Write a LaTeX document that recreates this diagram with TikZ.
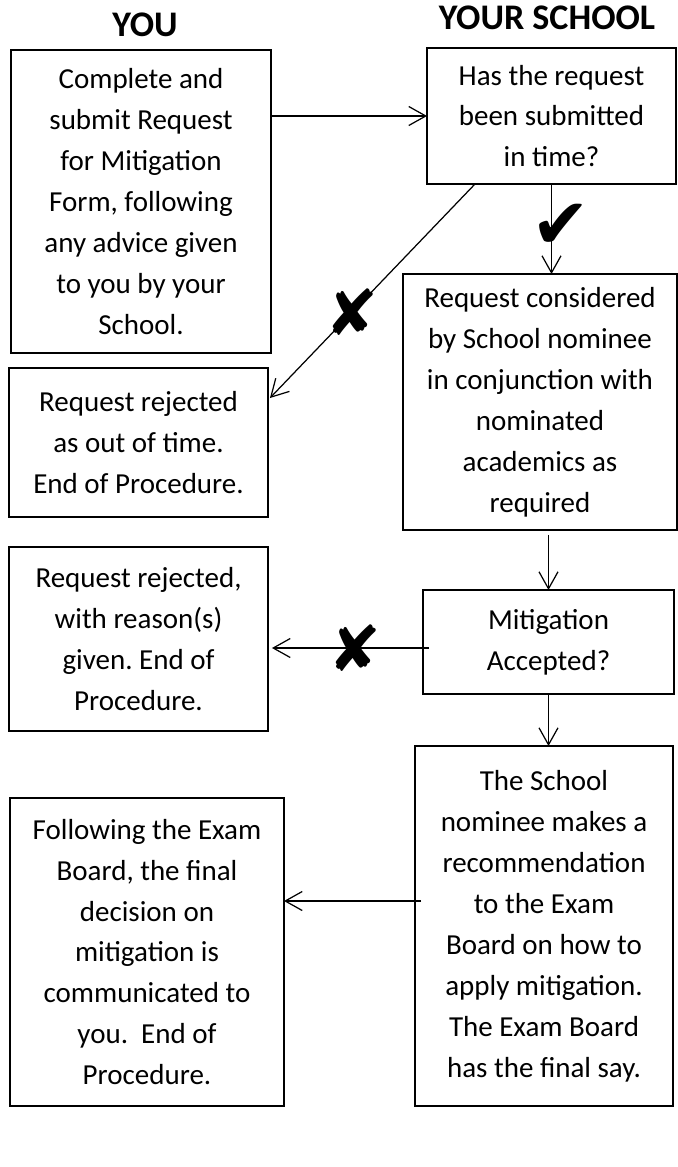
\documentclass[tikz,border=0pt]{standalone}
\usepackage{fontspec}
\setmainfont{Carlito}
\newfontfamily\symfont{DejaVu Sans}
\usetikzlibrary{arrows.meta}
\frenchspacing
\tikzset{
	flowbox/.style={draw, line width=0.7pt, align=center, inner sep=2pt, outer sep=0pt,
		font=\fontsize{16.5}{23.3}\selectfont},
	flowarrow/.style={line width=0.7pt, -{Straight Barb[length=3.4mm, width=3.8mm]}},
	heading/.style={font=\fontsize{20.5}{24}\selectfont\bfseries},
	verdict/.style={font=\symfont\fontsize{36}{36}\selectfont, inner sep=0pt}
}
\begin{document}
\begin{tikzpicture}[x=0.02cm, y=-0.02cm]
		\useasboundingbox (0,0) rectangle (678,1167);
		% headings
		\node[heading] (you) at (145, 25) {YOU};
		\node[heading] (school) at (547, 18) {YOUR SCHOOL};

		% you
		\node[flowbox, minimum width=5.2cm, minimum height=6.06cm] (submit) at (141, 201.5)
			{Complete and\\submit Request\\for Mitigation\\Form, following\\any advice given\\to you by your\\School.};
		\node[flowbox, minimum width=5.18cm, minimum height=2.98cm] (outoftime) at (138.5, 442.5)
			{Request rejected\\as out of time.\\End of Procedure.};
		\node[flowbox, minimum width=5.18cm, minimum height=3.68cm] (rejected) at (138.5, 639)
			{Request rejected,\\with reason(s)\\given. End of\\Procedure.};
		\node[flowbox, minimum width=5.48cm, minimum height=6.16cm] (final) at (147, 952)
			{Following the Exam\\Board, the final\\decision on\\mitigation is\\communicated to\\you.\ \ End of\\Procedure.};

		% your school
		\node[flowbox, minimum width=4.98cm, minimum height=2.72cm] (intime) at (551.5, 116)
			{Has the request\\been submitted\\in time?};
		\node[flowbox, minimum width=5.48cm, minimum height=5.12cm] (considered) at (540, 402)
			{Request considered\\by School nominee\\in conjunction with\\nominated\\academics as\\required};
		\node[flowbox, minimum width=5.02cm, minimum height=2.08cm] (accepted) at (548.5, 642)
			{Mitigation\\Accepted?};
		\node[flowbox, minimum width=5.16cm, minimum height=7.2cm] (recommend) at (544, 926)
			{The School\\nominee makes a\\recommendation\\to the Exam\\Board on how to\\apply mitigation.\\The Exam Board\\has the final say.};

		% connectors
		\draw[flowarrow] (submit.east |- intime.west) -- (intime.west);
		\draw[flowarrow] (intime.south) -- node[verdict, xshift=0.18cm, yshift=0.06cm, font=\symfont\fontsize{40}{40}\selectfont] (yes) {✔} (intime.south |- considered.north);
		\draw[flowarrow] ([xshift=0.96cm]intime.south west) -- node[verdict, pos=0.6] (late) {✘} ([xshift=0.04cm, yshift=-0.6cm]outoftime.north east);
		\draw[flowarrow] ([yshift=-0.1cm]accepted.north |- considered.south) -- (accepted.north);
		\draw[flowarrow] ([xshift=0.12cm, yshift=-0.12cm]accepted.west) -- node[verdict, pos=0.47] (no) {✘} ([xshift=0.08cm, yshift=-0.12cm]accepted.west -| rejected.east);
		\draw[flowarrow] (accepted.south) -- (accepted.south |- recommend.north);
		\draw[flowarrow] ([xshift=0.12cm, yshift=0.5cm]recommend.west) -- ([yshift=0.5cm]recommend.west -| final.east);
	\end{tikzpicture}
\end{document}
